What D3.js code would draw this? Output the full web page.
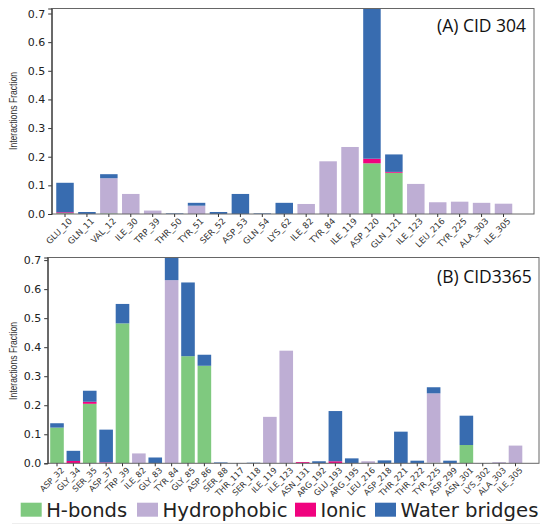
<!DOCTYPE html>
<html><head><meta charset="utf-8">
<script src="https://cdn.jsdelivr.net/npm/d3@7/dist/d3.min.js"></script>
<style>body{margin:0;background:#fff}svg{display:block}</style>
</head><body>
<svg id="c" width="550" height="531"></svg>
<script>
// ---- Data ----
const seriesNames = ["H-bonds", "Hydrophobic", "Ionic", "Water bridges"];
const seriesColors = ["#7fc97f", "#beaed4", "#f0027f", "#386cb0"];
const yTicks = [0.0, 0.1, 0.2, 0.3, 0.4, 0.5, 0.6, 0.7];

const residuesA = ["GLU_10","GLN_11","VAL_12","ILE_30","TRP_39","THR_50","TYR_51","SER_52","ASP_53","GLN_54","LYS_62","ILE_82","TYR_84","ILE_119","ASP_120","GLN_121","ILE_123","LEU_216","TYR_225","ALA_303","ILE_305"];
const hbondsA      = [0.003,0,0.002,0,0,0,0,0,0,0,0,0,0,0,0.177,0.144,0,0,0,0,0];
const hydrophobicA = [0,0,0.123,0.070,0.012,0,0.029,0,0,0,0,0.035,0.184,0.234,0,0,0.105,0.041,0.043,0.039,0.036];
const ionicA       = [0.003,0,0,0,0,0,0,0,0,0,0,0,0,0,0.016,0.003,0,0,0,0,0];
const waterA       = [0.103,0.007,0.014,0,0,0.002,0.010,0.007,0.070,0.002,0.039,0,0,0,0.55,0.061,0,0,0,0,0];

const residuesB = ["ASP_32","GLY_34","SER_35","ASP_37","TRP_39","ILE_82","GLY_83","TYR_84","GLY_85","ASP_86","SER_88","THR_117","SER_118","ILE_119","ILE_123","ASN_131","ARG_192","GLU_193","ARG_195","LEU_216","ASP_218","THR_221","THR_222","TYR_225","ASP_299","ASN_301","LYS_302","ALA_303","ILE_305"];
const hbondsB      = [0.123,0,0.205,0,0.482,0,0,0,0.369,0.336,0,0,0,0,0,0,0,0,0,0,0,0,0,0.002,0,0.063,0,0,0];
const hydrophobicB = [0,0,0,0,0,0.034,0,0.631,0,0,0,0,0,0.160,0.388,0,0,0,0,0.007,0,0,0,0.239,0,0,0,0.004,0.061];
const ionicB       = [0,0.008,0.007,0.003,0,0,0,0,0,0,0,0,0,0,0,0.004,0,0.007,0,0,0,0,0,0,0,0,0,0,0];
const waterB       = [0.015,0.035,0.038,0.113,0.067,0,0.020,0.09,0.254,0.038,0.003,0.001,0.002,0,0,0,0.007,0.173,0.017,0,0.010,0.109,0.009,0.021,0.009,0.101,0.001,0,0];

const panels = [
  {title:"(A) CID 304", res:residuesA, series:[hbondsA,hydrophobicA,ionicA,waterA],
   left:51.7, right:534, top:8.5, bottom:214, ymax:0.7175, first:65, last:503.5, barW:17.5, titleX:437, titleY:32, ylabY:111},
  {title:"(B) CID3365", res:residuesB, series:[hbondsB,hydrophobicB,ionicB,waterB],
   left:47.7, right:539, top:257.5, bottom:463.3, ymax:0.709, first:57, last:515.5, barW:13.6, titleX:437, titleY:283, ylabY:361}
];

const svg = d3.select("#c");
const defs = svg.append("defs");

panels.forEach((p, pi) => {
  const n = p.res.length;
  const step = (p.last - p.first) / (n - 1);
  const pad = 1 - p.barW / step;
  const x = d3.scaleBand().domain(p.res)
    .range([p.first - step/2, p.last + step/2]).paddingInner(pad).paddingOuter(pad/2);
  const y = d3.scaleLinear().domain([0, p.ymax]).range([p.bottom, p.top]);

  defs.append("clipPath").attr("id","clip"+pi).append("rect")
    .attr("x",p.left).attr("y",p.top).attr("width",p.right-p.left).attr("height",p.bottom-p.top);

  const rows = p.res.map((r,i) => {
    const o = {res:r}; seriesNames.forEach((s,k)=> o[s]=p.series[k][i]); return o;
  });
  const stacked = d3.stack().keys(seriesNames)(rows);

  const g = svg.append("g").attr("clip-path","url(#clip"+pi+")");
  stacked.forEach((layer,k) => {
    g.selectAll(null).data(layer).enter().append("rect")
      .attr("x", d => x(d.data.res))
      .attr("width", x.bandwidth())
      .attr("y", d => y(d[1]))
      .attr("height", d => Math.max(0, y(d[0]) - y(d[1])))
      .attr("fill", seriesColors[k]);
  });

  // frame
  svg.append("rect").attr("x",p.left).attr("y",p.top)
    .attr("width",p.right-p.left).attr("height",p.bottom-p.top)
    .attr("fill","none").attr("stroke","#666").attr("stroke-width",1);

  // y axis
  const ya = svg.append("g").attr("transform",`translate(${p.left},0)`)
    .call(d3.axisLeft(y).tickValues(yTicks).tickFormat(d3.format(".1f")).tickSize(3.5).tickPadding(3));
  ya.select(".domain").attr("stroke","#333");
  ya.selectAll(".tick line").attr("stroke","#333");
  ya.selectAll("text").attr("font-family","DejaVu Sans").attr("font-size",11).attr("fill","#222");

  // x axis
  const xa = svg.append("g").attr("transform",`translate(0,${p.bottom})`)
    .call(d3.axisBottom(x).tickSize(3).tickPadding(2));
  xa.select(".domain").remove();
  xa.selectAll(".tick line").attr("stroke","#333");
  xa.selectAll("text")
    .attr("font-family","DejaVu Sans").attr("font-size", pi===0 ? 8.6 : 8.2).attr("fill","#333")
    .attr("text-anchor","end").attr("dy","0.3em").attr("y",4)
    .attr("transform","translate(3,3) rotate(-45)");

  // y label
  svg.append("text").attr("transform",`translate(17,${p.ylabY}) rotate(-90)`)
    .attr("text-anchor","middle").attr("font-family","Liberation Sans Narrow, Liberation Sans")
    .attr("font-size",10).attr("fill","#333")
    .attr("textLength",78).attr("lengthAdjust","spacingAndGlyphs")
    .text("Interactions Fraction");

  // title
  svg.append("text").attr("x",p.titleX).attr("y",p.titleY)
    .attr("font-family","Open Sans").attr("font-size",17.5).attr("fill","#111")
    .text(p.title);
});

// legend
const legX = [20.7, 137, 295, 375];
const legTextW = [81, 125, 46, 138];
const lg = svg.append("g");
seriesNames.forEach((s,k) => {
  lg.append("rect").attr("x",legX[k]).attr("y",502.7).attr("width",21).attr("height",14).attr("fill",seriesColors[k]);
  lg.append("text").attr("x",legX[k]+25.5).attr("y",516.5)
    .attr("font-family","DejaVu Sans").attr("font-size",19).attr("fill","#222")
    .attr("textLength",legTextW[k]).attr("lengthAdjust","spacingAndGlyphs").text(s);
});
svg.append("line").attr("x1",12).attr("x2",540).attr("y1",523.5).attr("y2",523.5)
  .attr("stroke","#eee").attr("stroke-width",1);
</script>
</body></html>
